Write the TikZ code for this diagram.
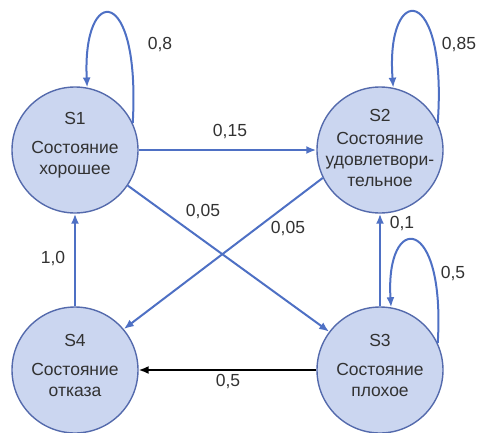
\documentclass[tikz,border=0pt]{standalone}
\usepackage{fontspec}
\setmainfont{Liberation Sans}
\usetikzlibrary{arrows.meta}
\definecolor{statefill}{RGB}{203,214,240}
\definecolor{stateline}{RGB}{84,106,172}
\definecolor{edgeblue}{RGB}{78,112,196}
\definecolor{txt}{RGB}{50,50,50}
\begin{document}
\begin{tikzpicture}[x=1pt,y=-1pt,
  state/.style={circle, draw=stateline, fill=statefill, line width=1.4pt,
                minimum size=126pt, inner sep=0pt},
  edge/.style={draw=edgeblue, line width=2pt,
               -{Latex[length=10pt,width=8pt]}},
  failedge/.style={edge, draw=black, line width=1.6pt},
  lbl/.style={text=txt, font=\fontsize{17.5}{21}\selectfont, inner sep=0pt},
  stxt/.style={lbl, align=center}
]
\useasboundingbox (0,0) rectangle (477,432);

% states
\node[state] (S1) at (75,150) {};
\node[state] (S2) at (380,150) {};
\node[state] (S3) at (380,370) {};
\node[state] (S4) at (75,370) {};

\node[stxt] (S1t) at ([yshift=5pt]S1.center) {S1\\[8pt]Состояние\\хорошее};
\node[stxt] (S2t) at ([yshift=2pt]S2.center) {S2\\[2pt]Состояние\\удовлетвори-\\тельное};
\node[stxt] (S3t) at ([yshift=5pt]S3.center) {S3\\[8pt]Состояние\\плохое};
\node[stxt] (S4t) at ([yshift=5pt]S4.center) {S4\\[8pt]Состояние\\отказа};

% self loops
\draw[edge] (S1.25) .. controls +(8,-140) and +(-5,-104) .. (S1.79);
\draw[edge] (S2.25) .. controls +(10,-141) and +(-8,-106) .. (S2.78);
\draw[edge] (S3.25) .. controls +(8,-130) and +(-6,-95) .. (S3.80);

% transitions
\draw[edge] (S1) -- (S2);
\draw[edge] (S1.-34) -- (S3.143);
\draw[edge] (S2.206) -- (S4.40);
\draw[edge] (S3) -- (S2);
\draw[edge] (S4) -- (S1);
\draw[failedge] (S3) -- (S4);

% transition probabilities
\node[lbl] (p11) at (160,45) {0,8};
\node[lbl] (p22) at (459,45) {0,85};
\node[lbl] (p12) at (230,132) {0,15};
\node[lbl] (p13) at (203,212) {0,05};
\node[lbl] (p24) at (288,229) {0,05};
\node[lbl] (p32) at (402,224) {0,1};
\node[lbl] (p33) at (453,274) {0,5};
\node[lbl] (p41) at (53,259) {1,0};
\node[lbl] (p34) at (228,382) {0,5};
\end{tikzpicture}
\end{document}
